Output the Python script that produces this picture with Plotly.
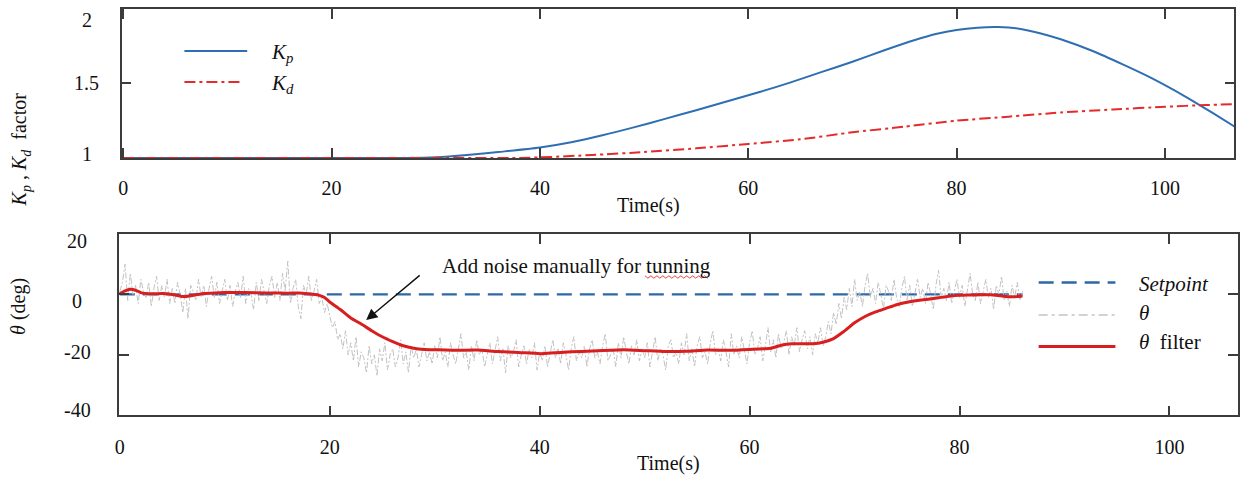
import numpy as np
import plotly.graph_objects as go

# ---------------- data ----------------
# Top panel: gain factors
kp_t = [0, 27, 30, 33, 36, 40, 43, 46, 49, 52, 55, 58, 61, 64, 67, 70, 73, 76, 78, 80, 82, 84, 86, 88, 90, 93, 96, 99, 102, 104.5, 106.7]
kp_v = [1.0, 1.0, 1.005, 1.02, 1.04, 1.07, 1.105, 1.152, 1.205, 1.262, 1.32, 1.38, 1.44, 1.505, 1.575, 1.645, 1.72, 1.79, 1.83, 1.858, 1.873, 1.877, 1.866, 1.836, 1.795, 1.718, 1.625, 1.525, 1.41, 1.305, 1.21]
kd_t = [0, 10, 20, 30, 38, 40, 45, 50, 55, 60, 65, 70, 75, 80, 85, 90, 95, 100, 104, 106.7]
kd_v = [1.0, 1.0, 1.0, 1.0, 1.0, 1.004, 1.02, 1.04, 1.065, 1.094, 1.125, 1.172, 1.21, 1.25, 1.277, 1.305, 1.325, 1.343, 1.355, 1.36]

# Bottom panel: attitude angle, raw samples every 0.25 s
theta_step = 0.25
theta_raw = [
    1, 4, 10, -2, 7, 0, 3, -3, 5, 1, -1, 4, -4, 2, 6, -2, 3, -1, 5, -3,
    2, -3, 4, 0, -6, 2, -8, 3, 1, -2, 5, -1, 3, -4, 2, 6, -1, 4, -3, 1,
    5, -2, 3, -4, 1, 4, -1, 6, -3, 2, 0, -5, 4, -2, 5, 1, -3, 3, 6, -1,
    4, -2, 7, 1, 11, -3, 2, 5, -4, -8, 3, 0, 6, -2, 1, 5, -3, -1, -6, -3,
    -7, -11, -9, -15, -13, -18, -12, -20, -16, -22, -14, -24, -19, -21, -26, -17, -23, -20, -27, -18,
    -22, -16, -25, -20, -18, -24, -21, -15, -23, -19, -26, -17, -21, -18, -24, -20, -16, -22, -19, -23,
    -17, -21, -14, -22, -19, -24, -16, -20, -23, -18, -13, -21, -19, -25, -17, -22, -15, -20, -18, -24,
    -20, -16, -23, -19, -14, -22, -18, -26, -17, -21, -19, -15, -24, -20, -17, -23, -18, -21, -16, -25,
    -19, -22, -17, -24, -20, -15, -21, -18, -23, -16, -20, -25, -18, -14, -22, -19, -21, -17, -24, -18,
    -15, -21, -19, -23, -17, -13, -22, -20, -18, -24, -16, -21, -14, -19, -23, -17, -20, -15, -22, -18,
    -21, -16, -24, -19, -14, -22, -18, -20, -25, -17, -15, -21, -19, -23, -16, -20, -13, -22, -18, -24,
    -17, -14, -21, -19, -23, -16, -12, -20, -18, -22, -15, -19, -24, -13, -20, -17, -21, -14, -19, -23,
    -16, -12, -20, -18, -14, -22, -17, -11, -19, -15, -21, -13, -18, -16, -12, -20, -14, -17, -11, -19,
    -15, -12, -18, -14, -20, -13, -16, -11, -17, -14, -9, -13, -6, -10, -3, -8, -1, -5, 2, -4,
    5, -2, 1, -4, 3, 7, -1, 2, -3, 4, 0, -5, 3, 1, -2, 5, -1, -4, 2, 6,
    -2, 3, -4, 1, 5, -1, 2, -3, 4, 0, -5, 3, 8, -1, 2, -2, 4, -3, 1, 5,
    -1, 3, -4, 2, 7, 0, -2, 4, -3, 1, 5, -1, 2, -5, 3, 0, 6, -2, 1, -4,
    3, -1, 4, -2, 1,
]
theta_t = list(np.arange(len(theta_raw)) * theta_step)

filt_t = [0, 0.5, 1, 1.5, 2, 3, 4, 5, 6, 7, 8, 9, 10, 12, 14, 16, 17, 18, 19, 19.5, 20, 21, 22, 23, 24, 25, 26, 27, 28, 29, 30,
          32, 34, 36, 38, 40, 41, 43, 45, 48, 50, 52, 54, 56, 58, 60, 62, 63, 64, 66, 67, 68, 69, 70, 71, 72, 73, 74, 75,
          76, 77, 78, 79, 80, 81, 82, 83, 84, 85, 86]
filt_v = [0.3, 1.2, 1.7, 1.4, 0.6, 0.2, 0.3, 0.0, -0.7, -0.3, 0.3, 0.5, 0.6, 0.6, 0.5, 0.4, 0.5, 0.2, -0.3, -1.0, -2.5, -5.0, -7.8, -9.8, -12.0, -14.0, -15.6, -17.0, -17.8, -18.2, -18.3,
          -18.5, -18.4, -18.9, -19.2, -19.6, -19.4, -19.0, -18.7, -18.3, -18.6, -18.9, -18.8, -18.4, -18.5, -18.2, -17.8, -16.8, -16.3, -16.3, -15.8, -14.6, -12.2, -9.4, -7.3, -5.8, -4.6, -3.4, -2.6,
          -2.0, -1.6, -1.1, -0.6, -0.3, -0.2, -0.1, -0.1, -0.5, -0.8, -0.5]

setpoint_t = [0, 86]
setpoint_v = [0, 0]

x_ticks = [0, 20, 40, 60, 80, 100]
x_ticktext = ["0", "20", "40", "60", "80", "100"]
top_yticks = [1, 1.5, 2]
top_yticktext = ["1", "1.5", "2"]
bot_yticks = [-40, -20, 0, 20]
bot_yticktext = ["-40", "-20", "0", "20"]

# ---------------- layout helpers ----------------
W, H = 1240, 490
FONT = "Liberation Serif"
AX = "#3c3c3c"


def px(x):
    return x / W


def py(y):
    return 1 - y / H


fig = go.Figure()

fig.add_trace(go.Scatter(x=kp_t, y=kp_v, mode="lines", line=dict(color="#2e6fb4", width=2, shape="spline", smoothing=0.8),
                         xaxis="x", yaxis="y", showlegend=False))
fig.add_trace(go.Scatter(x=kd_t, y=kd_v, mode="lines", line=dict(color="#e42a2a", width=2, dash="11px,4px,3px,4px", shape="spline", smoothing=0.6),
                         xaxis="x", yaxis="y", showlegend=False))

fig.add_trace(go.Scatter(x=setpoint_t, y=setpoint_v, mode="lines", line=dict(color="#2d68a6", width=2.2, dash="15px,8px"),
                         xaxis="x2", yaxis="y2", showlegend=False))
fig.add_trace(go.Scatter(x=theta_t, y=theta_raw, mode="lines", line=dict(color="#c2c2c2", width=1, dash="6px,2px,2px,2px"),
                         xaxis="x2", yaxis="y2", showlegend=False))
fig.add_trace(go.Scatter(x=filt_t, y=filt_v, mode="lines", line=dict(color="#d81e1e", width=3, shape="spline", smoothing=0.5),
                         xaxis="x2", yaxis="y2", showlegend=False))

axis_common = dict(showline=True, linecolor=AX, linewidth=1.6, mirror="ticks", ticks="inside", ticklen=10,
                   tickwidth=1.5, tickcolor=AX, showgrid=False, zeroline=False,
                   tickfont=dict(family=FONT, size=20, color="#111"))

fig.update_layout(
    width=W, height=H, margin=dict(l=0, r=0, t=0, b=0),
    font=dict(family=FONT, size=20, color="#111"),
    paper_bgcolor="white", plot_bgcolor="white", showlegend=False,
    xaxis=dict(domain=[px(118), px(1234.3)], range=[-0.16, 106.66], tickvals=x_ticks, ticktext=x_ticktext,
               ticklabelstandoff=11, anchor="y", **axis_common),
    yaxis=dict(domain=[py(158), py(8.7)], range=[1, 2], tickvals=top_yticks, showticklabels=False,
               anchor="x", **axis_common),
    xaxis2=dict(domain=[px(115.3), px(1237.7)], range=[-0.085, 106.5], tickvals=x_ticks, ticktext=x_ticktext,
                ticklabelstandoff=13, anchor="y2", **axis_common),
    yaxis2=dict(domain=[py(415.3), py(234)], range=[-40, 20], tickvals=bot_yticks, showticklabels=False,
                anchor="x2", **axis_common),
)

ann = []
# y tick labels (centred, as in the original)
top_shift = [4, 0, -11]
for v, t, s in zip(top_yticks, top_yticktext, top_shift):
    ann.append(dict(x=px(83), xref="paper", y=v, yref="y", text=t, showarrow=False, xanchor="center",
                    yanchor="middle", yshift=s, font=dict(family=FONT, size=20, color="#111")))
bot_shift = [5, 3, -7, -7]
for v, t, s in zip(bot_yticks, bot_yticktext, bot_shift):
    ann.append(dict(x=px(73.5), xref="paper", y=v, yref="y2", text=t, showarrow=False, xanchor="center",
                    yanchor="middle", yshift=s, font=dict(family=FONT, size=20, color="#111")))

# axis titles
ann.append(dict(x=px(647), y=py(206), xref="paper", yref="paper", text="Time(s)", showarrow=False,
                font=dict(family=FONT, size=20, color="#111")))
ann.append(dict(x=px(667), y=py(477), xref="paper", yref="paper", text="Time(s)", showarrow=False,
                font=dict(family=FONT, size=20, color="#111")))
ann.append(dict(x=px(20), y=py(90), xref="paper", yref="paper", textangle=-90, showarrow=False, xshift=-18,
                text="<i>K</i><sub><i>p</i></sub> , <i>K</i><sub><i>d</i></sub>  factor",
                font=dict(family=FONT, size=20, color="#111")))
ann.append(dict(x=px(17), y=py(337), xref="paper", yref="paper", textangle=-90, showarrow=False, xshift=-16,
                text="<i>θ</i> (deg)", font=dict(family=FONT, size=20, color="#111")))

# annotation + arrow
ann.append(dict(x=px(437.7), y=py(265.7), xref="paper", yref="paper", xanchor="left", yanchor="middle",
                text="Add noise manually for tunning", showarrow=False, font=dict(family=FONT, size=21, color="#111")))
ann.append(dict(x=23.47, y=-8.5, xref="x2", yref="y2", ax=55, ay=-46, text="", showarrow=True,
                arrowhead=2, arrowsize=1.6, arrowwidth=1.4, arrowcolor="#111"))

# legend texts
leg_font = dict(family=FONT, size=21, color="#111")
ann.append(dict(x=px(266), y=py(53), xref="paper", yref="paper", xanchor="left", yanchor="middle", showarrow=False,
                text="<i>K</i><sub><i>p</i></sub>", font=leg_font))
ann.append(dict(x=px(266), y=py(84), xref="paper", yref="paper", xanchor="left", yanchor="middle", showarrow=False,
                text="<i>K</i><sub><i>d</i></sub>", font=leg_font))
ann.append(dict(x=px(1137), y=py(284), xref="paper", yref="paper", xanchor="left", yanchor="middle", showarrow=False,
                text="<i>Setpoint</i>", font=leg_font))
ann.append(dict(x=px(1137), y=py(313), xref="paper", yref="paper", xanchor="left", yanchor="middle", showarrow=False,
                text="<i>θ</i>", font=leg_font))
ann.append(dict(x=px(1137), y=py(342), xref="paper", yref="paper", xanchor="left", yanchor="middle", showarrow=False,
                text="<i>θ</i>  filter", font=leg_font))
fig.update_layout(annotations=ann)

# legend sample lines
shapes = [
    dict(type="line", xref="paper", yref="paper", x0=px(181), x1=px(244), y0=py(51), y1=py(51),
         line=dict(color="#2e6fb4", width=2.2)),
    dict(type="line", xref="paper", yref="paper", x0=px(181), x1=px(240), y0=py(82), y1=py(82),
         line=dict(color="#e42a2a", width=2, dash="11px,4px,3px,4px")),
    dict(type="line", xref="paper", yref="paper", x0=px(1038), x1=px(1115), y0=py(282.5), y1=py(282.5),
         line=dict(color="#2d68a6", width=2.4, dash="15px,8px")),
    dict(type="line", xref="paper", yref="paper", x0=px(1038), x1=px(1115), y0=py(315), y1=py(315),
         line=dict(color="#c4c4c4", width=1.3, dash="9px,4px,3px,4px")),
    dict(type="line", xref="paper", yref="paper", x0=px(1038), x1=px(1115), y0=py(346.5), y1=py(346.5),
         line=dict(color="#d81e1e", width=3)),
]
# spell-check style wavy underline beneath "tunning"
wx = np.arange(643, 709, 3)
wy = [277 + (1.2 if i % 2 else -1.2) for i in range(len(wx))]
path = "M " + " L ".join(f"{px(a):.5f},{py(b):.5f}" for a, b in zip(wx, wy))
shapes.append(dict(type="path", xref="paper", yref="paper", path=path, line=dict(color="#e03030", width=0.9)))
fig.update_layout(shapes=shapes)

fig.write_html("out.html", config={"displayModeBar": False},
               post_script="document.body.style.margin='0';")
